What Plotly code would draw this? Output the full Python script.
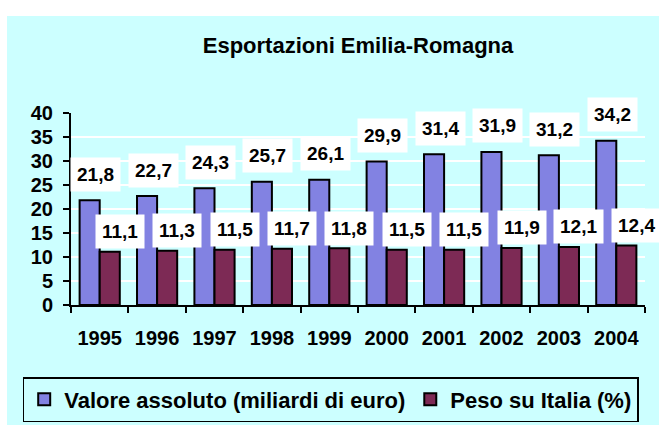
import plotly.graph_objects as go

years = ["1995", "1996", "1997", "1998", "1999", "2000", "2001", "2002", "2003", "2004"]
valore = [21.8, 22.7, 24.3, 25.7, 26.1, 29.9, 31.4, 31.9, 31.2, 34.2]
peso = [11.1, 11.3, 11.5, 11.7, 11.8, 11.5, 11.5, 11.9, 12.1, 12.4]
y_ticks = [0, 5, 10, 15, 20, 25, 30, 35, 40]

W, H = 659, 425
ML, MR, MT, MB = 71, 14, 113, 120
PW = W - ML - MR
PH = H - MT - MB

CYAN = "#ccffff"
FONT = "Liberation Sans, Arial, sans-serif"

def fmt(v):
    return f"{v:.1f}".replace(".", ",")

fig = go.Figure()
fig.add_trace(go.Bar(
    x=years, y=valore, name="Valore assoluto (miliardi di euro)",
    marker=dict(color="#8282e2", line=dict(color="black", width=2)),
))
fig.add_trace(go.Bar(
    x=years, y=peso, name="Peso su Italia (%)",
    marker=dict(color="#7d2a55", line=dict(color="black", width=2)),
))

annotations = []
for i, v in enumerate(valore):
    annotations.append(dict(
        x=i, y=v, xref="x", yref="y", text=fmt(v), showarrow=False,
        xshift=-4, yshift=26, yanchor="middle", xanchor="center",
        bgcolor="white", borderpad=6,
        font=dict(family=FONT, size=19, color="black", weight="bold"),
    ))
for i, v in enumerate(peso):
    annotations.append(dict(
        x=i, y=v, xref="x", yref="y", text=fmt(v), showarrow=False,
        xshift=20, yshift=20, yanchor="middle", xanchor="center",
        bgcolor="white", borderpad=6,
        font=dict(family=FONT, size=19, color="black", weight="bold"),
    ))

# cyan chart-area background (white margin at top/left)
bg_shape = dict(
    type="rect", xref="paper", yref="paper", layer="below",
    x0=(7 - ML) / PW, x1=(W - ML) / PW,
    y0=(PH - (H - MT)) / PH, y1=(PH + MT - 16) / PH,
    fillcolor=CYAN, line=dict(width=0),
)

fig.update_layout(
    width=W, height=H,
    margin=dict(l=ML, r=MR, t=MT, b=MB, pad=0, autoexpand=False),
    paper_bgcolor="white",
    plot_bgcolor="rgba(0,0,0,0)",
    barmode="group", bargap=0.3, bargroupgap=0,
    font=dict(family=FONT, size=19, color="black", weight="bold"),
    title=dict(
        text="Esportazioni Emilia-Romagna",
        x=0.5, xref="paper", xanchor="center",
        y=1 - 45 / H, yref="container", yanchor="middle",
        font=dict(family=FONT, size=22, color="black", weight="bold"),
    ),
    xaxis=dict(
        type="category", range=[-0.5, len(years) - 0.5],
        showgrid=False, showline=True, linecolor="black", linewidth=2,
        ticks="outside", tickson="boundaries", ticklen=6, tickwidth=2, tickcolor="black",
        ticklabelstandoff=14,
        tickfont=dict(family=FONT, size=20, color="black", weight="bold"),
    ),
    yaxis=dict(
        range=[0, 40], tickvals=y_ticks, showgrid=True, gridcolor="white", gridwidth=2,
        showline=True, linecolor="black", linewidth=2, zeroline=False,
        ticks="outside", ticklen=6, tickwidth=2, tickcolor="black",
        ticklabelstandoff=6,
        tickfont=dict(family=FONT, size=20, color="black", weight="bold"),
    ),
    showlegend=True,
    legend=dict(
        orientation="h", xref="paper", x=(22.7 - ML) / PW, xanchor="left",
        yref="paper", y=(PH - (399.5 - MT)) / PH, yanchor="middle",
        bgcolor=CYAN, bordercolor="black", borderwidth=1.5,
        font=dict(family=FONT, size=22, color="black", weight="bold"),
        itemwidth=30, traceorder="normal", tracegroupgap=0,
    ),
    annotations=annotations,
    shapes=[bg_shape],
)

fig.write_html("out.html", config={"displayModeBar": False},
               post_script="document.body.style.margin='0';")
